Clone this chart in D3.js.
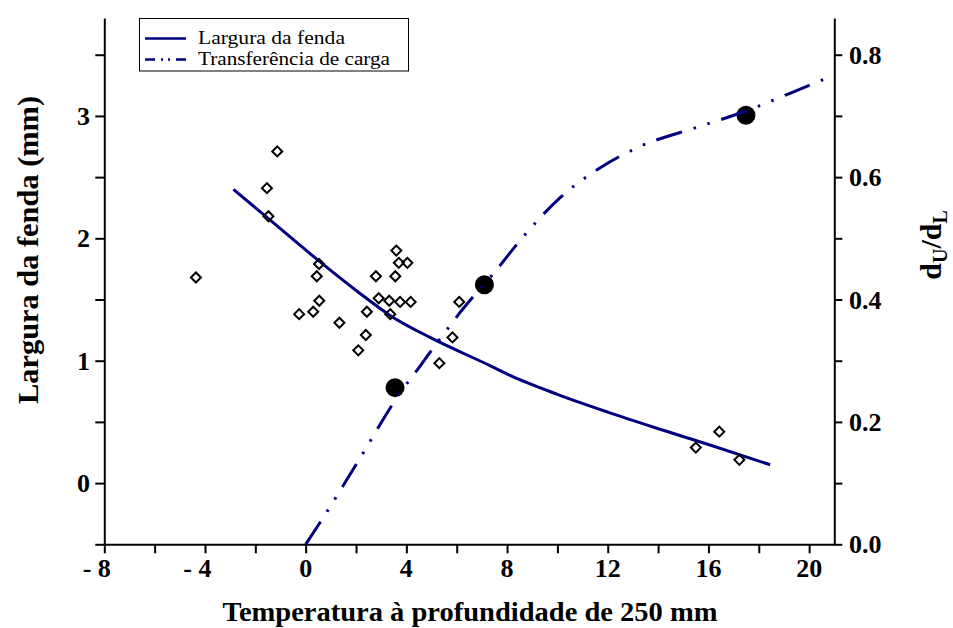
<!DOCTYPE html>
<html><head><meta charset="utf-8">
<script src="https://cdn.jsdelivr.net/npm/d3@7"></script>
<style>body{margin:0;background:#fff}svg{display:block}</style>
</head><body>
<svg id="chart" width="953" height="628"></svg>
<script>
// scatter: measured crack widths (left axis)
const scatterX = [-1.13,-1.54,-1.48,-4.36,0.53,0.44,0.54,0.30,-0.26,1.34,2.43,2.39,2.09,2.79,2.90,3.32,3.36,3.60,3.70,4.04,3.56,3.75,4.17,6.10,5.83,5.31,16.43,15.50,17.23];
const scatterY = [2.71,2.41,2.18,1.68,1.79,1.69,1.49,1.40,1.38,1.31,1.40,1.21,1.085,1.69,1.51,1.49,1.38,1.90,1.80,1.80,1.69,1.48,1.48,1.48,1.19,0.98,0.42,0.29,0.19];
// load transfer points (right axis)
const circleX = [3.55, 7.10, 17.49];
const circleY = [0.256, 0.424, 0.701];
// fitted crack width curve (left axis)
const widthCurveX = [-2.87,-1.42,0.44,2.03,3.35,4.94,7.32,8.12,10,12,14.08,16,18.45];
const widthCurveY = [2.40,2.15,1.83,1.57,1.37,1.19,0.96,0.88,0.725,0.58,0.44,0.315,0.15];
// fitted load transfer curve (right axis)
const transferCurveX = [0,0.64,2.0,3.78,4.45,5.07,5.73,6.06,6.77,7.45,8.53,10.12,11.69,13.28,15.67,17.49,19.24,20.83];
const transferCurveY = [0,0.04,0.13,0.249,0.286,0.321,0.357,0.375,0.410,0.442,0.497,0.567,0.615,0.650,0.683,0.708,0.737,0.764];
const xTicks = [-8,-4,0,4,8,12,16,20];
const leftTicks = [0,1,2,3];
const rightTicks = [0,0.2,0.4,0.6,0.8];
const legendLabels = ["Largura da fenda","Transferência de carga"];
const legendWidths = [147, 192];

const FONT = "'Liberation Serif','Times New Roman',serif";
const NAVY = "#000080";
const TICK_FS = 26;
const svg = d3.select("#chart");

const x = d3.scaleLinear().domain([-8,21]).range([104.3,834.3]);
const yL = d3.scaleLinear().domain([-0.5,3.8]).range([544.3,18]);
const yR = d3.scaleLinear().domain([0,0.86]).range([544.3,18]);

function styleAxis(g){
  g.select(".domain").attr("stroke","#000").attr("stroke-width",2);
  g.selectAll(".tick line").attr("stroke","#000").attr("stroke-width",2);
  g.selectAll(".tick text").remove();
}

// bottom axis
svg.append("g").attr("transform","translate(0,544.3)")
  .call(d3.axisBottom(x).tickValues(d3.range(-8,21,2)).tickSize(9).tickSizeOuter(0).tickFormat(""))
  .call(styleAxis);
// left axis
svg.append("g").attr("transform","translate(104.3,0)")
  .call(d3.axisLeft(yL).tickValues(d3.range(-0.5,3.51,0.5)).tickSize(9).tickSizeOuter(0).tickFormat(""))
  .call(styleAxis);
// right axis
svg.append("g").attr("transform","translate(834.3,0)")
  .call(d3.axisRight(yR).tickValues(d3.range(0,0.81,0.1)).tickSize(8).tickSizeOuter(0).tickFormat(""))
  .call(styleAxis);

// tick labels
svg.append("g").selectAll("text").data(xTicks).join("text")
  .attr("x", d => x(d) + String(Math.abs(d)).length*0.25*TICK_FS)
  .attr("y", 577)
  .attr("text-anchor","end")
  .attr("font-family",FONT).attr("font-weight","bold").attr("font-size",TICK_FS)
  .text(d => d < 0 ? "- " + Math.abs(d) : String(d));
svg.append("g").selectAll("text").data(leftTicks).join("text")
  .attr("x", 90).attr("y", d => yL(d) + 9)
  .attr("text-anchor","end")
  .attr("font-family",FONT).attr("font-weight","bold").attr("font-size",TICK_FS)
  .text(d => d);
svg.append("g").selectAll("text").data(rightTicks).join("text")
  .attr("x", 849).attr("y", d => yR(d) + 9)
  .attr("text-anchor","start")
  .attr("font-family",FONT).attr("font-weight","bold").attr("font-size",TICK_FS)
  .text(d => d3.format(".1f")(d));

// axis titles
svg.append("text").attr("x",470).attr("y",621).attr("text-anchor","middle")
  .attr("font-family",FONT).attr("font-weight","bold").attr("font-size",28)
  .attr("textLength",495).attr("lengthAdjust","spacingAndGlyphs")
  .text("Temperatura à profundidade de 250 mm");
svg.append("text").attr("transform","translate(38,250) rotate(-90)").attr("text-anchor","middle")
  .attr("font-family",FONT).attr("font-weight","bold").attr("font-size",29)
  .attr("textLength",308).attr("lengthAdjust","spacingAndGlyphs")
  .text("Largura da fenda (mm)");
const rt = svg.append("text").attr("transform","translate(941,245) rotate(-90)").attr("text-anchor","middle")
  .attr("font-family",FONT).attr("font-weight","bold").attr("font-size",30);
rt.append("tspan").text("d");
rt.append("tspan").attr("font-size",20).attr("dy",6).text("U");
rt.append("tspan").attr("dy",-6).text("/d");
rt.append("tspan").attr("font-size",20).attr("dy",6).text("L");

// circles
svg.append("g").selectAll("circle").data(circleX.map((d,i)=>[d,circleY[i]])).join("circle")
  .attr("cx", d => x(d[0])).attr("cy", d => yR(d[1])).attr("r", 9.5).attr("fill","#000");

// curves
const lineL = d3.line().x(d=>x(d[0])).y(d=>yL(d[1])).curve(d3.curveMonotoneX);
const lineR = d3.line().x(d=>x(d[0])).y(d=>yR(d[1])).curve(d3.curveMonotoneX);
svg.append("path").attr("d", lineL(widthCurveX.map((d,i)=>[d,widthCurveY[i]])))
  .attr("fill","none").attr("stroke",NAVY).attr("stroke-width",3);
svg.append("path").attr("d", lineR(transferCurveX.map((d,i)=>[d,transferCurveY[i]])))
  .attr("fill","none").attr("stroke",NAVY).attr("stroke-width",3)
  .attr("stroke-dasharray","27,12,2.5,12,2.5,12");

// diamonds
const diamond = d3.symbol().type(d3.symbolSquare).size(50);
svg.append("g").selectAll("path").data(scatterX.map((d,i)=>[d,scatterY[i]])).join("path")
  .attr("d", diamond)
  .attr("transform", d => `translate(${x(d[0])},${yL(d[1])}) rotate(45)`)
  .attr("fill","none").attr("stroke","#000").attr("stroke-width",2);

// legend
const lg = svg.append("g");
lg.append("rect").attr("x",139.5).attr("y",18.5).attr("width",269).attr("height",52.5)
  .attr("fill","#fff").attr("stroke","#000").attr("stroke-width",1);
const rows = [38.5, 59.5];
lg.append("line").attr("x1",145).attr("x2",186).attr("y1",rows[0]).attr("y2",rows[0])
  .attr("stroke",NAVY).attr("stroke-width",2.5);
lg.append("line").attr("x1",145).attr("x2",186).attr("y1",rows[1]).attr("y2",rows[1])
  .attr("stroke",NAVY).attr("stroke-width",2.5).attr("stroke-dasharray","10,6,2,5,2,6");
lg.selectAll("text.lab").data(legendLabels).join("text").attr("class","lab")
  .attr("x",198).attr("y",(d,i)=>rows[i]+5.5)
  .attr("font-family",FONT).attr("font-size",18.5)
  .attr("textLength",(d,i)=>legendWidths[i]).attr("lengthAdjust","spacingAndGlyphs")
  .text(d=>d);
</script>
</body></html>
